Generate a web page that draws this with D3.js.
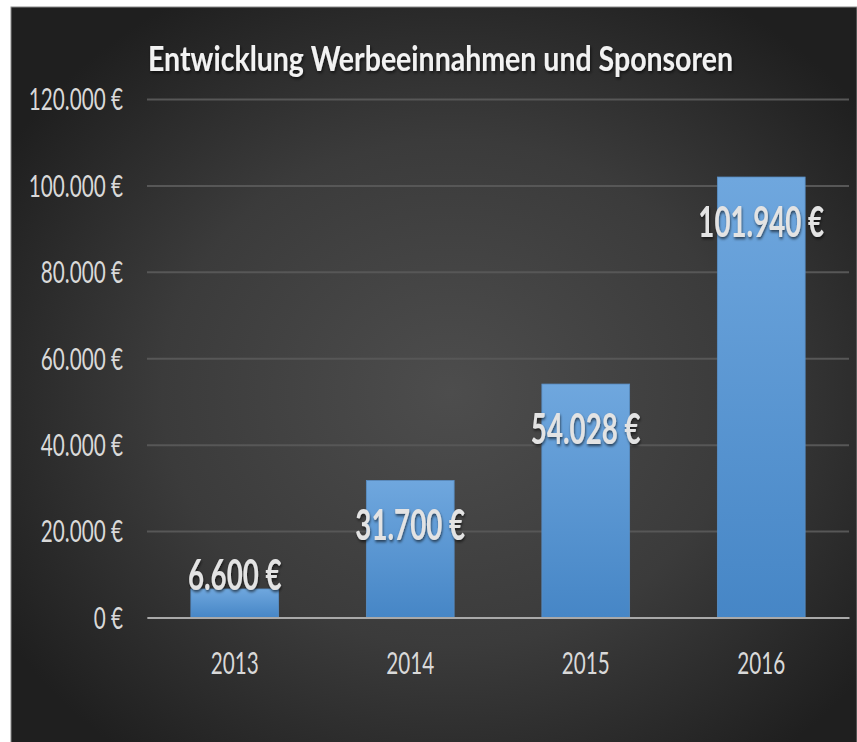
<!DOCTYPE html>
<html>
<head>
<meta charset="utf-8">
<script src="https://cdn.jsdelivr.net/npm/d3@7"></script>
<style>
  html, body { margin: 0; padding: 0; background: #ffffff; }
  svg { display: block; }
  text { font-family: Lato, "Open Sans", sans-serif; }
</style>
</head>
<body>
<div id="chart"></div>
<script>
// data
var years = ["2013", "2014", "2015", "2016"];
var revenue = [6600, 31700, 54028, 101940];
var yTicks = [0, 20000, 40000, 60000, 80000, 100000, 120000];
var chartTitle = "Entwicklung Werbeeinnahmen und Sponsoren";

var W = 857, H = 742;
var plotLeft = 147, plotRight = 849, plotTop = 99, plotBottom = 617.5;
var squeeze = 0.69;

var de = d3.formatLocale({decimal: ",", thousands: ".", grouping: [3], currency: ["", " €"]});
var euro = function (v) { return de.format(",.0f")(v) + " €"; };

var svg = d3.select("#chart").append("svg")
    .attr("width", W)
    .attr("height", H);

var defs = svg.append("defs");

var bg = defs.append("radialGradient")
    .attr("id", "bgGrad")
    .attr("cx", "52%").attr("cy", "52%").attr("r", "62%");
bg.append("stop").attr("offset", "0%").attr("stop-color", "#4d4d4d");
bg.append("stop").attr("offset", "55%").attr("stop-color", "#3b3b3b");
bg.append("stop").attr("offset", "100%").attr("stop-color", "#1f1f1f");

var barGrad = defs.append("linearGradient")
    .attr("id", "barGrad")
    .attr("x1", 0).attr("y1", 0).attr("x2", 0).attr("y2", 1);
barGrad.append("stop").attr("offset", "0%").attr("stop-color", "#6fa7de");
barGrad.append("stop").attr("offset", "100%").attr("stop-color", "#4686c6");

var shadow = defs.append("filter")
    .attr("id", "shadow")
    .attr("x", "-10%").attr("y", "-20%").attr("width", "130%").attr("height", "160%");
shadow.append("feDropShadow")
    .attr("dx", 1).attr("dy", 2).attr("stdDeviation", 1.5)
    .attr("flood-color", "#000").attr("flood-opacity", 0.6);

// panel (bottom edge runs off the page)
svg.append("rect")
    .attr("x", 11).attr("y", 7)
    .attr("width", W - 11).attr("height", H)
    .attr("fill", "url(#bgGrad)")
    .attr("stroke", "#8a8a8a")
    .attr("stroke-width", 1);

var x = d3.scaleBand()
    .domain(years)
    .range([plotLeft, plotRight])
    .paddingInner(0.5)
    .paddingOuter(0.25);

var y = d3.scaleLinear()
    .domain([0, 120000])
    .range([plotBottom, plotTop]);

// title
svg.append("text")
    .attr("x", 148).attr("y", 71)
    .attr("textLength", 585)
    .attr("lengthAdjust", "spacingAndGlyphs")
    .attr("font-size", 34)
    .attr("font-weight", "bold")
    .attr("fill", "#f2f2f2")
    .attr("filter", "url(#shadow)")
    .text(chartTitle);

// y axis with gridlines
var yAxis = svg.append("g")
    .attr("transform", "translate(" + plotLeft + ",0)")
    .call(d3.axisLeft(y).tickValues(yTicks).tickSize(-(plotRight - plotLeft)).tickFormat(euro));
yAxis.select(".domain").remove();
yAxis.selectAll(".tick line")
    .attr("stroke", "#575757")
    .attr("stroke-width", 2);
yAxis.selectAll(".tick text")
    .attr("x", 0)
    .attr("dy", "0.36em")
    .attr("transform", "translate(-24,0) scale(" + squeeze + ",1)")
    .attr("font-size", 30)
    .attr("fill", "#d9d9d9");

// bars
svg.append("g").selectAll("rect")
    .data(revenue)
    .enter().append("rect")
    .attr("x", function (d, i) { return x(years[i]); })
    .attr("y", function (d) { return y(d); })
    .attr("width", x.bandwidth())
    .attr("height", function (d) { return y(0) - y(d); })
    .attr("fill", "url(#barGrad)")
    .attr("stroke", "#5a8fc6")
    .attr("stroke-width", 0.8);

// x axis
var xAxis = svg.append("g")
    .attr("transform", "translate(0," + y(0) + ")")
    .call(d3.axisBottom(x).tickSize(0).tickSizeOuter(0));
xAxis.select(".domain")
    .attr("stroke", "#a9a9a9")
    .attr("stroke-width", 2);
xAxis.selectAll(".tick text")
    .attr("y", 0)
    .attr("dy", "0.36em")
    .attr("transform", "translate(0,45.5) scale(" + squeeze + ",1)")
    .attr("font-size", 30)
    .attr("fill", "#d9d9d9");

// value labels: inside end, or just above the bar when it is too short
svg.append("g").selectAll("text")
    .data(revenue)
    .enter().append("text")
    .attr("text-anchor", "middle")
    .attr("dy", "0.36em")
    .attr("transform", function (d, i) {
        var cx = x(years[i]) + x.bandwidth() / 2;
        var top = y(d);
        var cy = (y(0) - top) > 90 ? top + 44.5 : top - 14;
        return "translate(" + cx + "," + cy + ") scale(0.66,1)";
    })
    .attr("font-size", 42)
    .attr("font-weight", "bold")
    .attr("fill", "#e3e3e3")
    .attr("filter", "url(#shadow)")
    .text(function (d) { return euro(d); });
</script>
</body>
</html>
